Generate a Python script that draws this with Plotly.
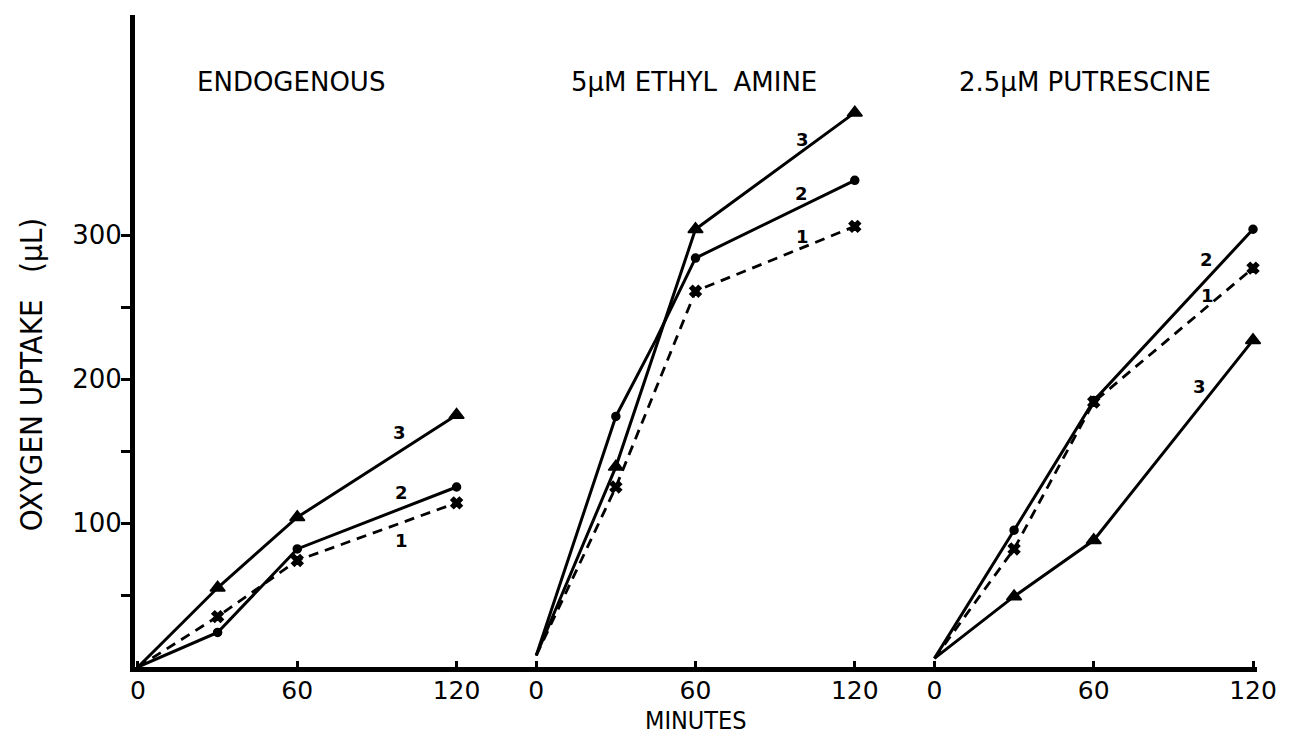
import plotly.graph_objects as go

# ---- data (minutes, oxygen uptake in µL) ----
panel_titles = ["ENDOGENOUS", "5\u03bcM ETHYL\u00a0 AMINE", "2.5\u03bcM PUTRESCINE"]
panel_offsets = [0, 150, 300]          # where each panel's time axis starts on the shared x axis
tick_minutes = [0, 60, 120]
tick_labels = ["0", "60", "120"]

# Endogenous
endo_t = [0, 30, 60, 120]
endo_1 = [0, 35, 74, 114]
endo_2 = [0, 24, 82, 125]
endo_3 = [0, 55, 104, 175]

# 5 µM ethyl amine
ethyl_t = [0, 30, 60, 120]
ethyl_1 = [8, 125, 261, 306]
ethyl_2_t = [0, 30, 45, 60, 120]
ethyl_2 = [8, 174, 227, 284, 338]
ethyl_3 = [8, 139, 304, 385]

# 2.5 µM putrescine
put_t = [0, 30, 60, 120]
put_1 = [6, 82, 184, 277]
put_2 = [6, 95, 185, 304]
put_3 = [6, 49, 88, 227]

# curve number labels: (panel, minute, value, text)
curve_labels = [
    (0, 98.5, 163, "3"), (0, 99.4, 121, "2"), (0, 99.4, 88, "1"),
    (1, 100.4, 366, "3"), (1, 100.1, 329, "2"), (1, 100.4, 299, "1"),
    (2, 102.6, 283, "2"), (2, 102.8, 258, "1"), (2, 99.7, 195, "3"),
]

series = [
    # panel, curve no., times, values
    (0, 1, endo_t, endo_1), (0, 2, endo_t, endo_2), (0, 3, endo_t, endo_3),
    (1, 1, ethyl_t, ethyl_1), (1, 2, ethyl_2_t, ethyl_2), (1, 3, ethyl_t, ethyl_3),
    (2, 1, put_t, put_1), (2, 2, put_t, put_2), (2, 3, put_t, put_3),
]

# ---- styles ----
INK = "#000000"
curve_style = {
    1: dict(dash="10px,7px", width=2.8, symbol="x", size=10),
    2: dict(dash="solid", width=3, symbol="circle", size=8),
    3: dict(dash="solid", width=3, symbol="triangle-up", size=13),
}
marked_minutes = {30, 60, 120}

fig = go.Figure()
for panel, curve, t, v in series:
    st = curve_style[curve]
    off = panel_offsets[panel]
    sizes = [st["size"] if m in marked_minutes else 0 for m in t]
    fig.add_trace(go.Scatter(
        x=[m + off for m in t], y=v,
        mode="lines+markers",
        line=dict(color=INK, width=st["width"], dash=st["dash"]),
        marker=dict(color=INK, symbol=st["symbol"], size=sizes, opacity=1,
                    line=dict(width=1.5, color=INK)),
        cliponaxis=False, showlegend=False, hoverinfo="skip",
    ))

# x ticks for all three panels
tickvals, ticktext = [], []
for off in panel_offsets:
    for m, lab in zip(tick_minutes, tick_labels):
        tickvals.append(m + off)
        ticktext.append(lab)

LABEL_FONT = "DejaVu Sans, Verdana, sans-serif"
NARROW_FONT = "Liberation Sans Narrow, DejaVu Sans Condensed, Arial Narrow, sans-serif"

annotations = []
title_x = [57.8, 209.6, 356.6]
for tx, title in zip(title_x, panel_titles):
    annotations.append(dict(x=tx, y=0.897, xref="x", yref="paper", text=title,
                            showarrow=False, xanchor="center", yanchor="middle",
                            font=dict(family=LABEL_FONT, size=26, color=INK)))
for panel, m, v, txt in curve_labels:
    annotations.append(dict(x=m + panel_offsets[panel], y=v, xref="x", yref="y",
                            text="<b>" + txt + "</b>", showarrow=False,
                            font=dict(family="DejaVu Sans, sans-serif", size=18, color=INK)))
annotations.append(dict(x=-0.0932, y=0.448, xref="paper", yref="paper",
                        text="OXYGEN UPTAKE\u00a0\u00a0 (\u03bcL)", textangle=-90,
                        showarrow=False, xanchor="center", yanchor="middle",
                        font=dict(family=NARROW_FONT, size=31, color=INK)))
annotations.append(dict(x=0.5004, y=-0.082, xref="paper", yref="paper",
                        text="MINUTES", showarrow=False, xanchor="center", yanchor="middle",
                        font=dict(family=NARROW_FONT, size=25, color=INK)))

fig.update_layout(
    width=1289, height=736,
    margin=dict(l=135, r=27, t=15, b=69),
    paper_bgcolor="white", plot_bgcolor="white",
    annotations=annotations,
    xaxis=dict(range=[-1.125, 421.5], showgrid=False, zeroline=False,
               showline=True, linewidth=5, linecolor=INK,
               tickmode="array", tickvals=tickvals, ticktext=ticktext,
               ticks="inside", ticklen=6, tickwidth=3, tickcolor=INK,
               ticklabelstandoff=-3,
               tickfont=dict(family=LABEL_FONT, size=25, color=INK)),
    yaxis=dict(range=[0, 452.8], showgrid=False, zeroline=False,
               showline=True, linewidth=5, linecolor=INK,
               tickmode="array", tickvals=[50, 100, 150, 200, 250, 300],
               ticktext=["", "100", "", "200", "", "300"],
               ticks="outside", ticklen=9, tickwidth=3, tickcolor=INK,
               ticklabelstandoff=-6,
               tickfont=dict(family=LABEL_FONT, size=26, color=INK)),
)

fig.write_html("out.html",
               config={"displayModeBar": False, "staticPlot": True},
               post_script="document.body.style.margin='0';document.body.style.overflow='hidden';")
